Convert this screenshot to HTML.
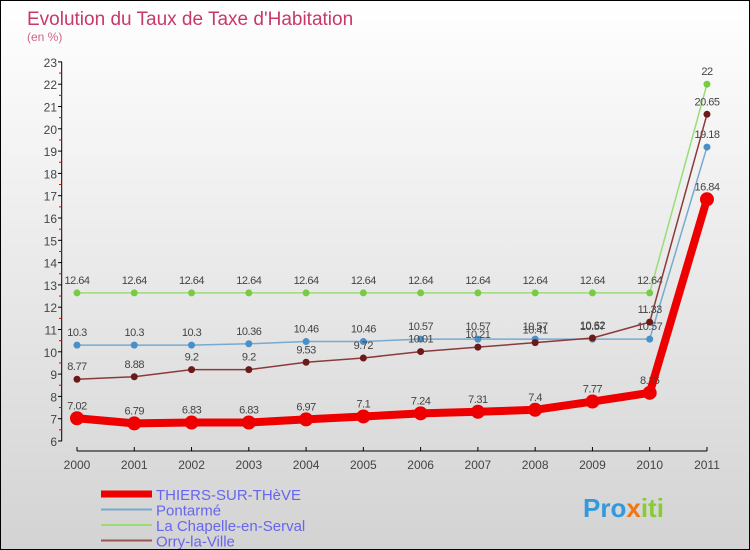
<!DOCTYPE html>
<html><head><meta charset="utf-8"><style>
body{margin:0}
#c{width:750px;height:550px;position:relative;box-sizing:border-box;border:1px solid #000;background:linear-gradient(#fff,#d3d3d3);font-family:"Liberation Sans",sans-serif;overflow:hidden}
</style></head><body>
<div id="c">
<svg id="s" width="750" height="550" style="position:absolute;left:0;top:0">
<text x="26" y="24" font-size="19" fill="#c8386a">Evolution du Taux de Taxe d'Habitation</text>
<text x="26" y="40" font-size="12" fill="#d0658a">(en %)</text>
<text x="582" y="516" font-size="26" font-weight="bold"><tspan fill="#3399dd">Pro</tspan><tspan fill="#ee7711">x</tspan><tspan fill="#88cc33">iti</tspan></text>
</svg>
</div>
<script>
const years=[2000,2001,2002,2003,2004,2005,2006,2007,2008,2009,2010,2011];
const thiers=[7.02,6.79,6.83,6.83,6.97,7.1,7.24,7.31,7.4,7.77,8.16,16.84];
const pontarme=[10.3,10.3,10.3,10.36,10.46,10.46,10.57,10.57,10.57,10.57,10.57,19.18];
const chapelle=[12.64,12.64,12.64,12.64,12.64,12.64,12.64,12.64,12.64,12.64,12.64,22];
const orry=[8.77,8.88,9.2,9.2,9.53,9.72,10.01,10.21,10.41,10.62,11.33,20.65];
const yTicks=[6,7,8,9,10,11,12,13,14,15,16,17,18,19,20,21,22,23];
const names=["THIERS-SUR-THèVE","Pontarmé","La Chapelle-en-Serval","Orry-la-Ville"];
const NS="http://www.w3.org/2000/svg",s=document.getElementById('s');
const X=i=>76+i*57.27, Y=v=>440-(v-6)*22.3;
function el(t,a,txt){const e=document.createElementNS(NS,t);for(const k in a)e.setAttribute(k,a[k]);if(txt!=null)e.textContent=txt;s.appendChild(e);return e;}
let e=el('line',{x1:60.7,y1:61,x2:60.7,y2:440,stroke:'#000'});

yTicks.forEach(v=>{
 let t=el('line',{x1:57,x2:61,y1:Y(v),y2:Y(v),stroke:'#000'});
 
 if(v<23){let m=el('line',{x1:58,x2:61,y1:Y(v+0.5),y2:Y(v+0.5),stroke:'#d00'});
 }
 let l=el('text',{x:56,y:Y(v)+5,'text-anchor':'end','font-size':12,fill:'#444'},v);
 
});
e=el('line',{x1:X(0),x2:X(11),y1:450,y2:450,stroke:'#000'});

years.forEach((y,i)=>{
 let t=el('line',{x1:X(i),x2:X(i),y1:446,y2:450,stroke:'#000'});
 
 let l=el('text',{x:X(i),y:468,'text-anchor':'middle','font-size':12,fill:'#444'},y);
 
});
const series=[
 {d:chapelle,c:'#99dd77',p:'#77cc44',w:1.5,r:3.5,n:'series-la-chapelle'},
 {d:pontarme,c:'#77aad0',p:'#4a90c8',w:1.5,r:3.5,n:'series-pontarme'},
 {d:orry,c:'#8b3a3a',p:'#6b1a1a',w:1.5,r:3.5,n:'series-orry'},
 {d:thiers,c:'#ee0000',p:'#ee0000',w:8,r:7,n:'series-thiers'}];
series.forEach(S=>{
 let p=el('polyline',{points:S.d.map((v,i)=>X(i)+','+Y(v)).join(' '),fill:'none',stroke:S.c,'stroke-width':S.w,'stroke-linejoin':'round'});
 
 S.d.forEach((v,i)=>{
  let c=el('circle',{cx:X(i),cy:Y(v),r:S.r,fill:S.p});
  
  let t=el('text',{x:X(i),y:Y(v)-9,'text-anchor':'middle','font-size':11,fill:'#444','letter-spacing':'-0.5'},v);
  
 });
});
const lg=[['#ee0000',7],['#77aad0',2],['#99dd77',2],['#9a5555',2]];
names.forEach((n,i)=>{
 const y=493+i*15.5;
 let l=el('line',{x1:100,x2:151,y1:y,y2:y,stroke:lg[i][0],'stroke-width':lg[i][1]});
 
 let t=el('text',{x:155,y:y+6,'font-size':15,fill:'#6666ee'},n);
 
});
</script>
</body></html>
